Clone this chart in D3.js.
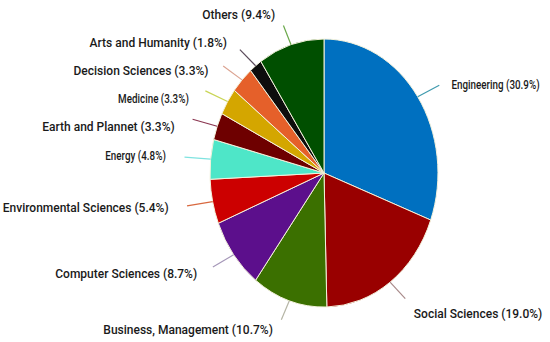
<!DOCTYPE html>
<html>
<head>
<meta charset="utf-8">
<script src="https://cdn.jsdelivr.net/npm/d3@7"></script>
<style>
  html, body { margin: 0; padding: 0; background: #fff; }
  svg text { font-family: Roboto, "DejaVu Sans", sans-serif; font-weight: 500; fill: #1a1a1a; }
</style>
</head>
<body>
<svg id="chart" width="550" height="342"></svg>
<script>
const categories = ["Engineering", "Social Sciences", "Business, Management", "Computer Sciences",
  "Environmental Sciences", "Energy", "Earth and Plannet", "Medicine", "Decision Sciences",
  "Arts and Humanity", "Others"];
const values = [30.9, 19.0, 10.7, 8.7, 5.4, 4.8, 3.3, 3.3, 3.3, 1.8, 9.4];
const sliceColors = ["#0070c0", "#990000", "#3b7000", "#5c0f8c", "#cc0000", "#4ee6c8",
  "#6e0000", "#d4a600", "#e5602a", "#0d0d0d", "#004f00"];
const leaderColors = ["#3f9aae", "#a88a8a", "#b5b5a5", "#a597b8", "#d8683f", "#7fe3e0",
  "#8a3550", "#c9d555", "#dba391", "#5a4a5a", "#6aa84a"];
// labels that the reference sets in a condensed face
const condensedLabels = ["Engineering", "Medicine", "Energy"];

const W = 550, H = 342;
const cx = 324, cy = 173, rx = 114, ry = 134;

const svg = d3.select("#chart");
const data = categories.map((c, i) => ({ name: c, value: values[i], color: sliceColors[i], lc: leaderColors[i] }));
const pie = d3.pie().value(d => d.value).sort(null);
const arcs = pie(data);
const arc = d3.arc().innerRadius(0).outerRadius(1);

const g = svg.append("g").attr("transform", `translate(${cx},${cy})`);
g.append("g").attr("transform", `scale(${rx},${ry})`)
  .selectAll("path").data(arcs).join("path")
  .attr("d", arc)
  .attr("fill", d => d.data.color)
  .attr("stroke", "#f4f2dc")
  .attr("stroke-width", 1)
  .attr("vector-effect", "non-scaling-stroke");

// leader lines
const mid = d => (d.startAngle + d.endAngle) / 2;
g.selectAll("line.leader").data(arcs).join("line")
  .attr("class", "leader")
  .attr("x1", d => rx * Math.sin(mid(d)))
  .attr("y1", d => -ry * Math.cos(mid(d)))
  .attr("x2", d => rx * 1.23 * Math.sin(mid(d)))
  .attr("y2", d => -ry * 1.15 * Math.cos(mid(d)))
  .attr("stroke", d => d.data.lc)
  .attr("stroke-width", 1.2);

// labels
const LRx = 155, LRy = 165, minGap = 28;
const labels = arcs.map(d => {
  const a = mid(d);
  const right = Math.sin(a) > 0;
  return { d, x: LRx * Math.sin(a) + (right ? 0 : -4), y: -LRy * Math.cos(a) + (right ? 6 : 0), right };
});
const left = labels.filter(l => !l.right).sort((a, b) => a.y - b.y);
for (let i = 1; i < left.length; i++) {
  left[i].y = Math.max(left[i].y, left[i - 1].y + minGap);
}
g.selectAll("text.lbl").data(labels).join("text")
  .attr("class", "lbl")
  .attr("transform", l => `translate(${l.x},${l.y}) scale(${condensedLabels.includes(l.d.data.name) ? 0.82 : 1},1)`)
  .attr("dy", "0.35em")
  .attr("text-anchor", l => l.right ? "start" : "end")
  .style("font-size", "12px")
  .text(l => `${l.d.data.name} (${l.d.data.value.toFixed(1)}%)`);
</script>
</body>
</html>
